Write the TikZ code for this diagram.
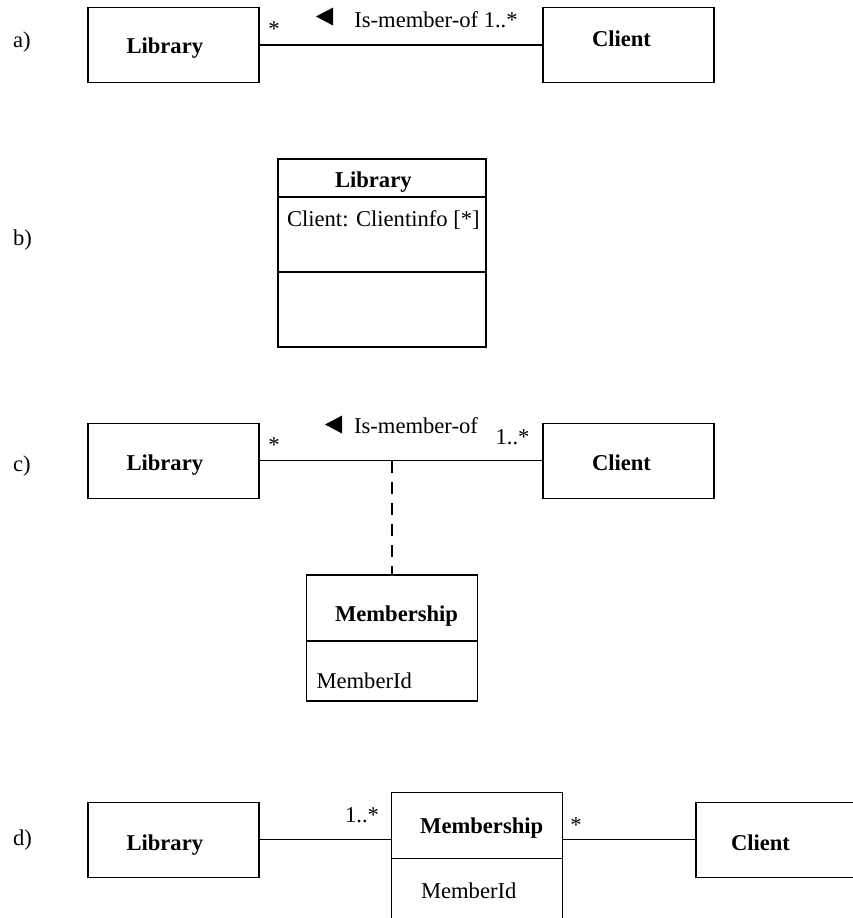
\documentclass[tikz,border=0pt]{standalone}
\usepackage{fontspec}
\setmainfont{Liberation Serif}
\usetikzlibrary{positioning,shapes.geometric}
\newcommand{\umlfont}{\fontsize{11.3pt}{13.5pt}\selectfont}
\tikzset{umlbox/.style={draw, line width=0.6pt, inner sep=0pt, outer sep=0pt, minimum width=85.5pt, font=\umlfont\bfseries},
  cls/.style={umlbox, minimum height=37.5pt},
  txtbase/.style={text height=#1, text depth=0pt},
  txtleft/.style={text width=#1, align=left},
  comp/.style={draw, line width=0.6pt, inner sep=0pt, outer sep=0pt},
  lbl/.style={inner sep=0pt, outer sep=0pt, anchor=base, font=\umlfont},
  tag/.style={lbl, anchor=base west},
  assoc/.style={line width=0.6pt},
  assocdash/.style={assoc, dash pattern=on 6pt off 4.5pt},
  readdir/.style={isosceles triangle, isosceles triangle stretches, shape border rotate=180, fill, inner sep=0pt, minimum width=9pt, minimum height=8.5pt, anchor=apex}}

\begin{document}
\begin{tikzpicture}[x=0.5pt, y=-0.5pt]
\useasboundingbox (0,0) rectangle (853,918);
% a) plain association
\node[tag] (taga) at (13,47) {a)};
\node[cls, txtbase=8pt, txtleft=47pt, anchor=north west] (liba) at (88,7.5) {Library};
\node[cls, txtbase=1pt, txtleft=36.5pt, right=142pt of liba] (clienta) {Client};
\draw[assoc] (liba) -- (clienta);
\node[lbl] (multa) at (274,36) {*};
\node[readdir] (dira) at (315,16.5) {};
\node[lbl] (namea) at (436,27) {Is-member-of 1..*};
% b) attribute
\node[tag] (tagb) at (13,245) {b)};
\node[umlbox, minimum width=104pt, minimum height=19pt, txtbase=9.3pt, txtleft=47pt, anchor=north west] (libbh) at (278,159) {Library};
\node[comp, minimum width=104pt, minimum height=37.5pt, below=0pt of libbh] (libba) {};
\node[comp, minimum width=104pt, minimum height=37.5pt, below=0pt of libba] (libbo) {};
\node[lbl, anchor=base west] (attrb) at ([shift={(9,29)}]libba.north west) {Client: Clientinfo [*]};
% c) association class
\node[tag] (tagc) at (13,471.7) {c)};
\node[cls, txtbase=9.7pt, txtleft=47pt, anchor=north west] (libc) at (88,423.3) {Library};
\node[cls, txtbase=9.7pt, txtleft=36.5pt, right=142pt of libc] (clientc) {Client};
\draw[assoc] (libc) -- (clientc);
\node[lbl] (multc1) at (274,452) {*};
\node[readdir] (dirc) at (324,424.5) {};
\node[lbl] (namec) at (416,433) {Is-member-of};
\node[lbl] (multc2) at (512.5,444) {1..*};
\node[umlbox, minimum height=33pt, txtbase=13.7pt, txtleft=57pt, anchor=north] (memch) at (392,575) {Membership};
\node[comp, minimum width=85.5pt, minimum height=30pt, below=0pt of memch] (memca) {};
\node[lbl, anchor=base west] (attrc) at ([shift={(10,47.3)}]memca.north west) {MemberId};
\draw[assocdash] (memch.north |- libc.east) -- (memch.north);
% d) reified class
\node[tag] (tagd) at (13,845) {d)};
\node[cls, txtbase=10.5pt, txtleft=47pt, anchor=north west] (libd) at (88,802.3) {Library};
\node[umlbox, minimum height=33pt, txtbase=7.3pt, txtleft=57pt, anchor=north west] (memdh) at (391.7,792.7) {Membership};
\node[comp, minimum width=85.5pt, minimum height=35pt, below=0pt of memdh] (memda) {};
\node[cls, txtbase=10.5pt, txtleft=50.5pt, right=218.5pt of libd] (clientd) {Client};
\draw[assoc] (libd) -- (libd -| memdh.west);
\draw[assoc] (clientd -| memdh.east) -- (clientd);
\node[lbl] (multd1) at (362,822) {1..*};
\node[lbl] (multd2) at (576,832) {*};
\node[lbl, anchor=base west] (attrd) at ([shift={(29.3,39.3)}]memda.north west) {MemberId};
\end{tikzpicture}
\end{document}
